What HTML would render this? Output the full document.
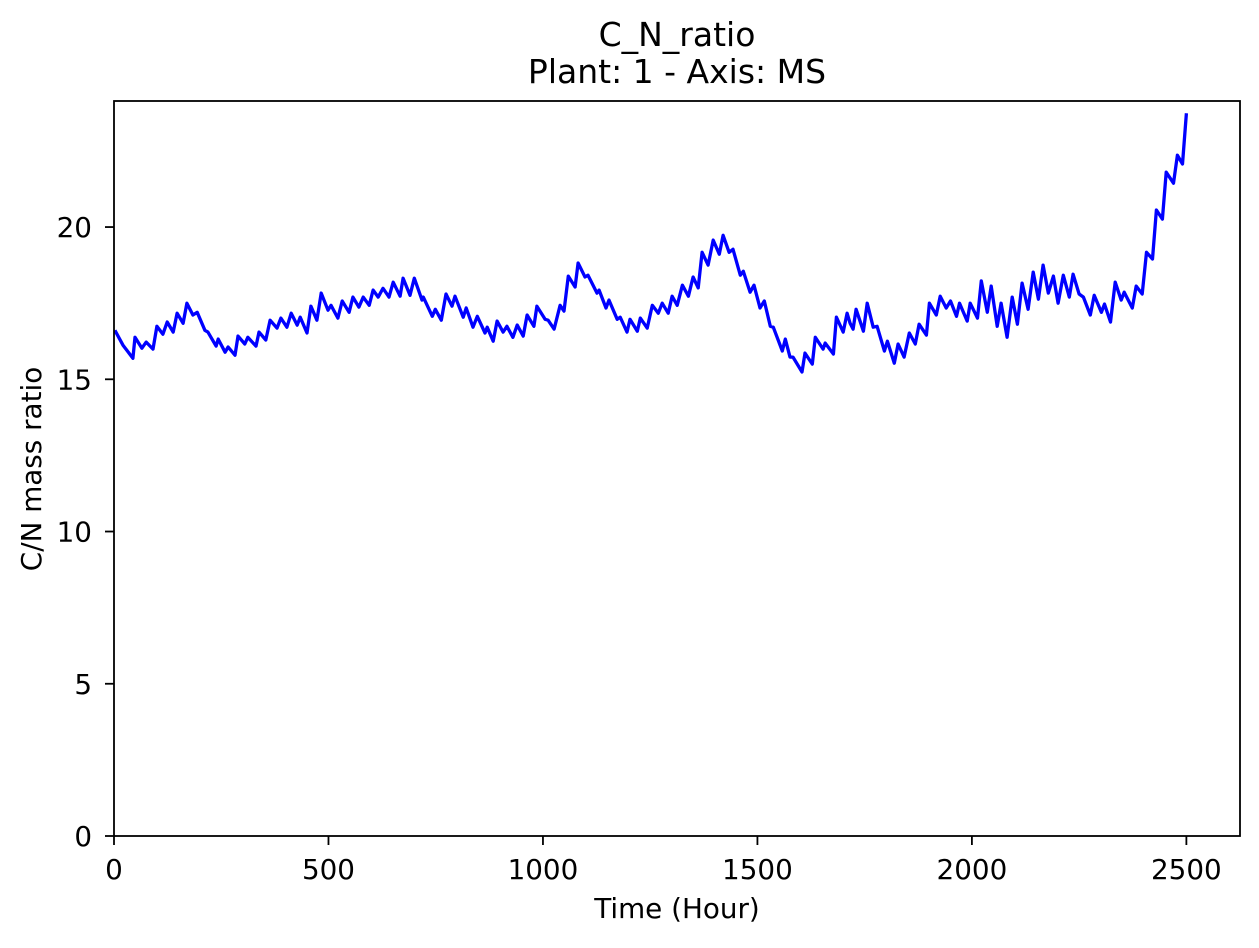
<!DOCTYPE html>
<html><head><meta charset="utf-8"><style>
html,body{margin:0;padding:0;background:#fff;}
svg text{font-family:"DejaVu Sans","Liberation Sans",sans-serif;fill:#000;}
</style></head><body>
<svg id="chart" width="1259" height="943" viewBox="0 0 1259 943" xmlns="http://www.w3.org/2000/svg">
<rect width="1259" height="943" fill="#fff"/>
<text x="677" y="46" font-size="33" text-anchor="middle">C_N_ratio</text>
<text x="677" y="83" font-size="33" text-anchor="middle">Plant: 1 - Axis: MS</text>
<g id="ticks"></g>
<g id="series"></g>
<rect x="114" y="101" width="1126" height="735" fill="none" stroke="#000" stroke-width="1.8"/>
<text x="677" y="918" font-size="27.8" text-anchor="middle">Time (Hour)</text>
<text transform="translate(41,469) rotate(-90)" font-size="27.8" text-anchor="middle">C/N mass ratio</text>
</svg>
<script>
const times=[2,21,44,49,65,75,91,100,114,124,138,147,161,170,184,194,212,219,238,243,259,266,282,289,305,312,331,338,354,364,380,389,403,413,427,434,450,459,473,483,499,506,522,532,548,557,571,581,595,604,616,627,641,651,667,674,690,700,718,721,742,749,763,774,788,795,814,821,837,847,865,870,884,893,907,916,930,940,954,963,979,986,1005,1012,1026,1040,1049,1059,1075,1082,1098,1105,1126,1131,1147,1154,1173,1180,1196,1203,1220,1227,1243,1255,1269,1278,1292,1301,1313,1325,1339,1350,1362,1371,1385,1397,1411,1420,1434,1443,1460,1467,1483,1492,1506,1516,1530,1537,1558,1565,1576,1583,1604,1611,1628,1635,1653,1658,1677,1684,1700,1709,1716,1723,1730,1747,1756,1770,1779,1796,1803,1819,1828,1842,1854,1868,1877,1894,1901,1917,1926,1940,1950,1964,1971,1989,1996,2013,2022,2036,2045,2059,2068,2082,2094,2106,2117,2131,2143,2155,2166,2178,2190,2201,2213,2227,2236,2250,2260,2276,2285,2302,2309,2323,2334,2348,2355,2374,2383,2397,2407,2421,2430,2444,2453,2470,2479,2491,2500];
const ratios=[16.61,16.12,15.69,16.38,16.02,16.22,15.99,16.74,16.48,16.88,16.55,17.17,16.84,17.50,17.11,17.20,16.61,16.55,16.09,16.32,15.89,16.06,15.79,16.42,16.16,16.38,16.09,16.55,16.29,16.94,16.68,17.01,16.71,17.17,16.78,17.04,16.52,17.40,16.94,17.83,17.27,17.43,17.01,17.57,17.20,17.70,17.37,17.70,17.43,17.93,17.70,17.99,17.70,18.19,17.73,18.32,17.76,18.32,17.60,17.70,17.07,17.30,16.94,17.80,17.40,17.73,17.04,17.34,16.71,17.07,16.52,16.71,16.25,16.91,16.55,16.74,16.38,16.78,16.42,17.11,16.74,17.40,16.97,16.94,16.65,17.43,17.24,18.39,18.03,18.82,18.36,18.42,17.83,17.93,17.34,17.60,16.97,17.04,16.55,16.97,16.58,17.01,16.68,17.43,17.17,17.50,17.17,17.73,17.43,18.09,17.73,18.36,18.00,19.17,18.75,19.57,19.11,19.73,19.17,19.27,18.42,18.55,17.86,18.09,17.34,17.57,16.74,16.71,15.93,16.32,15.73,15.73,15.24,15.86,15.50,16.38,15.99,16.19,15.83,17.04,16.55,17.17,16.84,16.65,17.30,16.58,17.50,16.71,16.74,15.93,16.25,15.53,16.16,15.73,16.52,16.16,16.81,16.45,17.50,17.11,17.73,17.34,17.57,17.07,17.50,16.91,17.50,17.01,18.23,17.20,18.06,16.74,17.50,16.38,17.70,16.81,18.16,17.30,18.52,17.63,18.75,17.83,18.39,17.50,18.42,17.70,18.45,17.80,17.70,17.11,17.76,17.20,17.47,16.88,18.19,17.60,17.86,17.34,18.06,17.80,19.17,18.95,20.56,20.26,21.80,21.44,22.36,22.07,23.74];
const xTicks=[0,500,1000,1500,2000,2500];
const yTicks=[0,5,10,15,20];
const xMin=0,xMax=2625,yMin=0,yMax=24.14;
const L=114,R=1240,T=101,B=836;
function sx(v){return L+(v-xMin)/(xMax-xMin)*(R-L);}
function sy(v){return B-(v-yMin)/(yMax-yMin)*(B-T);}
const NS='http://www.w3.org/2000/svg';
const tg=document.getElementById('ticks');
xTicks.forEach(t=>{
  const l=document.createElementNS(NS,'line');
  l.setAttribute('x1',sx(t));l.setAttribute('x2',sx(t));l.setAttribute('y1',B);l.setAttribute('y2',B+9);
  l.setAttribute('stroke','#000');l.setAttribute('stroke-width','1.8');
  
  
  tg.appendChild(l);
  const tx=document.createElementNS(NS,'text');
  tx.setAttribute('x',sx(t));tx.setAttribute('y',879);tx.setAttribute('font-size','27.8');tx.setAttribute('text-anchor','middle');
  tx.textContent=t;
  
  
  tg.appendChild(tx);
});
yTicks.forEach(t=>{
  const l=document.createElementNS(NS,'line');
  l.setAttribute('x1',L-9);l.setAttribute('x2',L);l.setAttribute('y1',sy(t));l.setAttribute('y2',sy(t));
  l.setAttribute('stroke','#000');l.setAttribute('stroke-width','1.8');
  
  
  tg.appendChild(l);
  const tx=document.createElementNS(NS,'text');
  tx.setAttribute('x',92);tx.setAttribute('y',sy(t)+10);tx.setAttribute('font-size','27.8');tx.setAttribute('text-anchor','end');
  tx.textContent=t;
  
  
  tg.appendChild(tx);
});
const p=document.createElementNS(NS,'polyline');
p.setAttribute('points',times.map((t,i)=>sx(t).toFixed(1)+','+sy(ratios[i]).toFixed(1)).join(' '));
p.setAttribute('fill','none');p.setAttribute('stroke','#0000ff');p.setAttribute('stroke-width','3.3');p.setAttribute('stroke-linejoin','round');


document.getElementById('series').appendChild(p);
</script>
</body></html>
